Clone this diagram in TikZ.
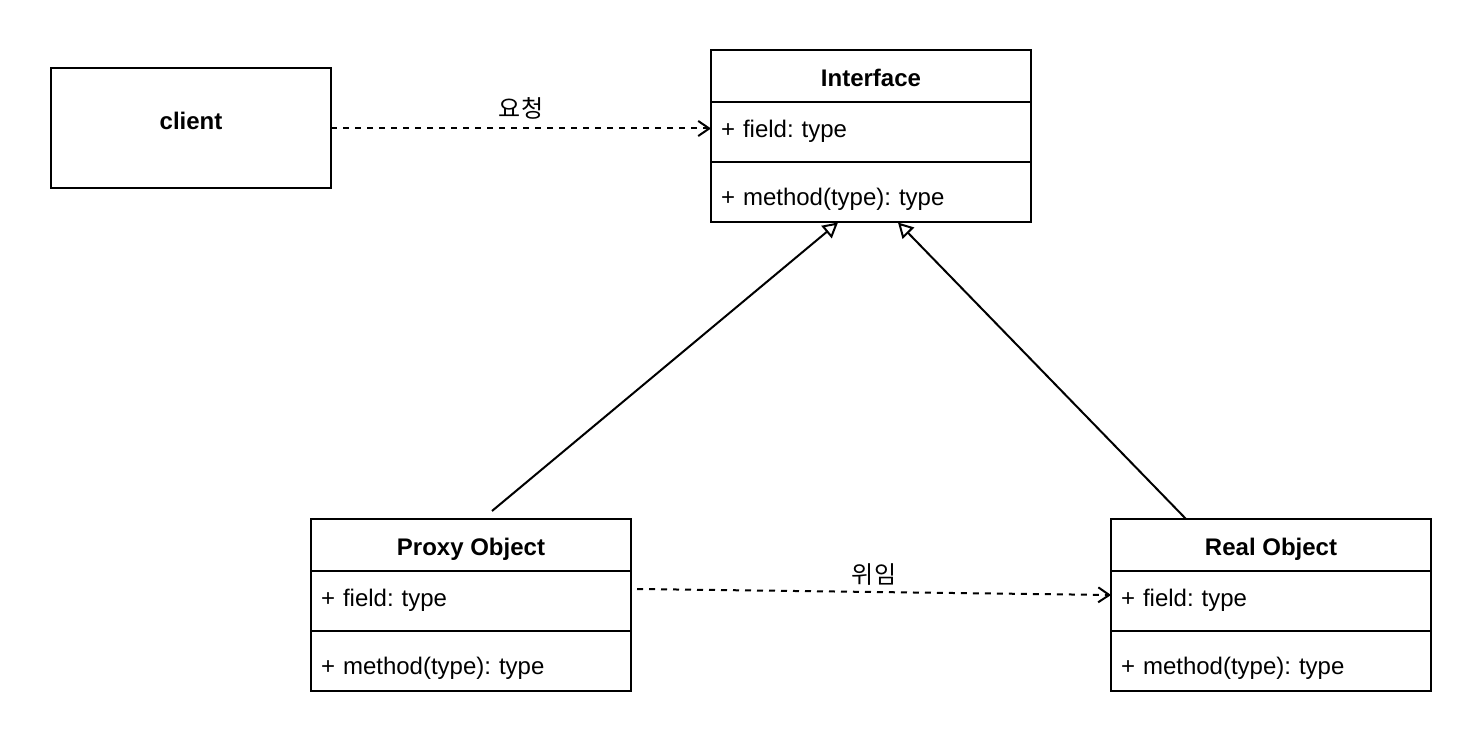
\documentclass[tikz,border=0pt]{standalone}
\usepackage{fontspec}
\setmainfont{Liberation Sans}
\newfontfamily\krfont{Noto Sans CJK KR}
\usepackage{tikz}
\usetikzlibrary{arrows.meta, positioning, fit}
\frenchspacing

\begin{document}
\begin{tikzpicture}[x=0.5pt, y=-0.5pt,
  font=\fontsize{12}{14}\selectfont,
  box/.style={rectangle, draw, line width=1pt, minimum width=160pt, inner sep=0pt, outer sep=0pt},
  hdr/.style={box, minimum height=26pt, text height=11pt, text depth=0.5pt,
              font=\fontsize{12}{14}\selectfont\bfseries},
  member/.style={rectangle, minimum width=160pt, minimum height=26pt, text width=150pt,
                 text height=11.5pt, text depth=2pt,
                 inner xsep=5pt, inner ysep=0pt, outer sep=0pt, align=left},
  lbl/.style={font=\fontsize{12}{14}\krfont, inner sep=4pt},
  dep/.style={-{Straight Barb[length=5.5pt, width=7.5pt]}, line width=1pt, dash pattern=on 3pt off 3pt},
  inh/.style={-{Triangle[open, length=7.5pt, width=8pt]}, line width=1pt},
  divider/.style={line width=1pt},
]
  \useasboundingbox (0,0) rectangle (1482,748);

  % client
  \node[box, minimum width=140pt, minimum height=60pt, font=\fontsize{12}{14}\selectfont\bfseries,
        text height=9pt, text depth=8pt] (client) at (191,128.5) {client};

  % Interface
  \node[hdr] (iface) at (871,76.5) {Interface};
  \node[member, below=0pt of iface] (ifaceF) {+ field: type};
  \node[member, below=8pt of ifaceF] (ifaceM) {+ method(type): type};
  \draw[divider] ([yshift=-4pt]ifaceF.south west) -- ([yshift=-4pt]ifaceF.south east);
  \node[box, fit=(iface)(ifaceM)] (ifaceBox) {};

  % Proxy Object
  \node[hdr] (proxy) at (471,545) {Proxy Object};
  \node[member, below=0pt of proxy] (proxyF) {+ field: type};
  \node[member, below=8pt of proxyF] (proxyM) {+ method(type): type};
  \draw[divider] ([yshift=-4pt]proxyF.south west) -- ([yshift=-4pt]proxyF.south east);
  \node[box, fit=(proxy)(proxyM)] (proxyBox) {};

  % Real Object
  \node[hdr] (real) at (1271,545) {Real Object};
  \node[member, below=0pt of real] (realF) {+ field: type};
  \node[member, below=8pt of realF] (realM) {+ method(type): type};
  \draw[divider] ([yshift=-4pt]realF.south west) -- ([yshift=-4pt]realF.south east);
  \node[box, fit=(real)(realM)] (realBox) {};

  % dependencies
  \draw[dep] (client.east) -- node[lbl, above] {요청} (ifaceF.west);
  \draw[dep] ([xshift=3pt, yshift=4pt]proxyF.east) --
    node[lbl, above, inner sep=3pt] {위임} ([yshift=1pt]realF.west);

  % realization
  \draw[inh] ([xshift=10.5pt, yshift=4pt]proxyBox.north) -- ([xshift=-16.5pt]ifaceBox.south);
  \draw[inh] ([xshift=-42.5pt]realBox.north) -- ([xshift=13.5pt]ifaceBox.south);
\end{tikzpicture}
\end{document}
